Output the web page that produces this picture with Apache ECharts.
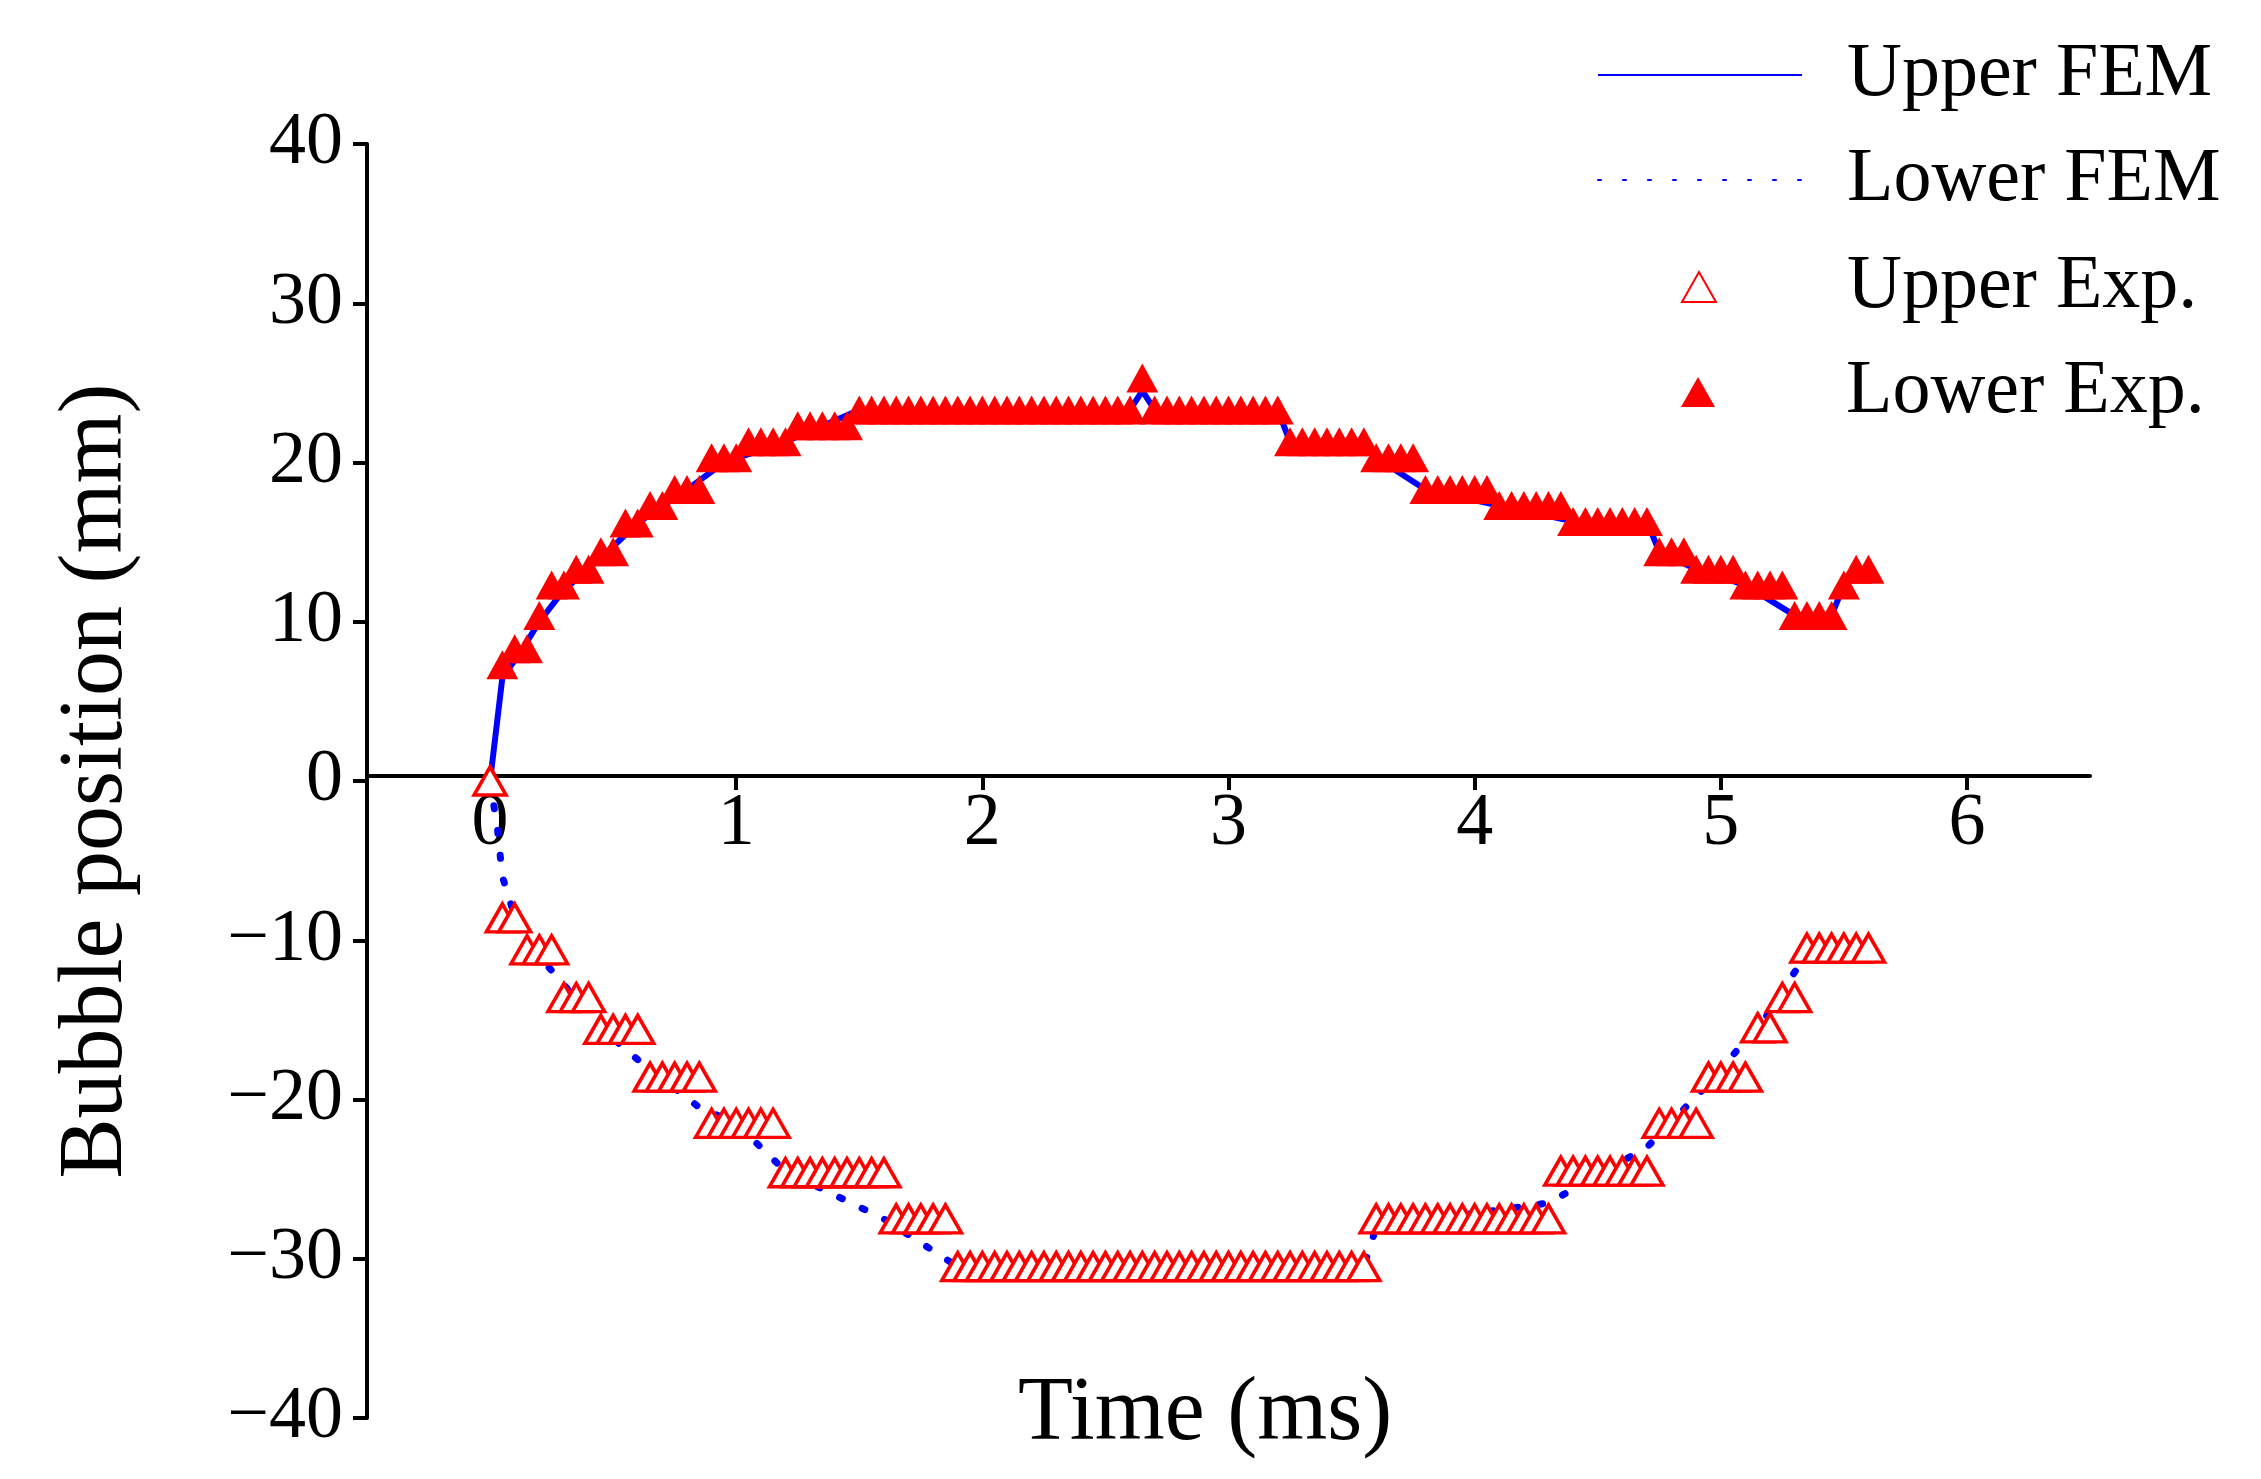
<!DOCTYPE html>
<html><head><meta charset="utf-8">
<script src="https://cdn.jsdelivr.net/npm/echarts@6/dist/echarts.min.js"></script>
<style>html,body{margin:0;padding:0;background:#fff}#c{width:2261px;height:1479px}</style>
</head><body><div id="c"></div>
<script>
const FONT = '"Liberation Serif","DejaVu Serif",serif';
const xTicks = [0,1,2,3,4,5,6];
const yTicks = [-40,-30,-20,-10,0,10,20,30,40];

// Lower Exp. (filled triangles, positive side)
const lowerExpX = [0.05,0.10,0.15,0.20,0.25,0.30,0.35,0.40,0.45,0.50,0.55,0.60,0.65,0.70,0.75,0.80,0.85,0.90,0.95,1.00,1.05,1.10,1.15,1.20,1.25,1.30,1.35,1.40,1.45,
 1.50,1.55,1.60,1.65,1.70,1.75,1.80,1.85,1.90,1.95,2.00,2.05,2.10,2.15,2.20,2.25,2.30,2.35,2.40,2.45,2.50,2.55,2.60,2.65,2.70,2.75,2.80,2.85,2.90,2.95,3.00,3.05,3.10,3.15,3.20,
 3.25,3.30,3.35,3.40,3.45,3.50,3.55,3.60,3.65,3.70,3.75,3.80,3.85,3.90,3.95,4.00,4.05,4.10,4.15,4.20,4.25,4.30,4.35,
 4.40,4.45,4.50,4.55,4.60,4.65,4.70,4.75,4.80,4.85,4.90,4.95,5.00,5.05,5.10,5.15,5.20,5.25,5.30,5.35,5.40,5.45,5.50,5.55,5.60];
const lowerExpY = [7.3,8.3,8.3,10.4,12.3,12.3,13.3,13.3,14.4,14.4,16.2,16.2,17.3,17.3,18.3,18.3,18.3,20.3,20.3,20.3,21.3,21.3,21.3,21.3,22.3,22.3,22.3,22.3,22.3,
 23.3,23.3,23.3,23.3,23.3,23.3,23.3,23.3,23.3,23.3,23.3,23.3,23.3,23.3,23.3,23.3,23.3,23.3,23.3,23.3,23.3,23.3,23.3,25.3,23.3,23.3,23.3,23.3,23.3,23.3,23.3,23.3,23.3,23.3,23.3,
 21.3,21.3,21.3,21.3,21.3,21.3,21.3,20.3,20.3,20.3,20.3,18.3,18.3,18.3,18.3,18.3,18.3,17.3,17.3,17.3,17.3,17.3,17.3,
 16.3,16.3,16.3,16.3,16.3,16.3,16.3,14.4,14.4,14.4,13.3,13.3,13.3,13.3,12.3,12.3,12.3,12.3,10.4,10.4,10.4,10.4,12.3,13.3,13.3];

// Upper Exp. (hollow triangles, negative side)
const upperExpX = [0,0.05,0.10,0.15,0.20,0.25,0.30,0.35,0.40,0.45,0.50,0.55,0.60,0.65,0.70,0.75,0.80,0.85,0.90,0.95,1.00,1.05,1.10,1.15,
 1.20,1.25,1.30,1.35,1.40,1.45,1.50,1.55,1.60,1.65,1.70,1.75,1.80,1.85,
 1.90,1.95,2.00,2.05,2.10,2.15,2.20,2.25,2.30,2.35,2.40,2.45,2.50,2.55,2.60,2.65,2.70,2.75,2.80,2.85,2.90,2.95,3.00,3.05,3.10,3.15,3.20,3.25,3.30,3.35,3.40,3.45,3.50,3.55,
 3.60,3.65,3.70,3.75,3.80,3.85,3.90,3.95,4.00,4.05,4.10,4.15,4.20,4.25,4.30,
 4.35,4.40,4.45,4.50,4.55,4.60,4.65,4.70,4.75,4.80,4.85,4.90,4.95,5.00,5.05,5.10,5.15,5.20,5.25,5.30,5.35,5.40,5.45,5.50,5.55,5.60];
const upperExpY = [0,-8.6,-8.6,-10.6,-10.6,-10.6,-13.6,-13.6,-13.6,-15.6,-15.6,-15.6,-15.6,-18.6,-18.6,-18.6,-18.6,-18.6,-21.5,-21.5,-21.5,-21.5,-21.5,-21.5,
 -24.6,-24.6,-24.6,-24.6,-24.6,-24.6,-24.6,-24.6,-24.6,-27.5,-27.5,-27.5,-27.5,-27.5,
 -30.5,-30.5,-30.5,-30.5,-30.5,-30.5,-30.5,-30.5,-30.5,-30.5,-30.5,-30.5,-30.5,-30.5,-30.5,-30.5,-30.5,-30.5,-30.5,-30.5,-30.5,-30.5,-30.5,-30.5,-30.5,-30.5,-30.5,-30.5,-30.5,-30.5,-30.5,-30.5,-30.5,-30.5,
 -27.5,-27.5,-27.5,-27.5,-27.5,-27.5,-27.5,-27.5,-27.5,-27.5,-27.5,-27.5,-27.5,-27.5,-27.5,
 -24.5,-24.5,-24.5,-24.5,-24.5,-24.5,-24.5,-24.5,-21.5,-21.5,-21.5,-21.5,-18.6,-18.6,-18.6,-18.6,-15.5,-15.5,-13.6,-13.6,-10.5,-10.5,-10.5,-10.5,-10.5,-10.5];

// FEM curves
const upperFemX = [0,0.05,0.12,0.2,0.3,0.45,0.6,0.8,0.95,1.2,1.5,2.6,2.65,2.7,3.2,3.25,3.55,3.6,3.8,4.1,4.4,4.7,4.75,4.9,5.1,5.3,5.45,5.5,5.6];
const upperFemY = [0,6.5,8,10,12,14,16.2,18.3,20,21.3,23.3,23.3,24.5,23.3,23.3,21.3,21.3,20.3,18.3,17.3,16.3,16.3,14.4,13.3,12.3,10.4,10.4,12.3,13.3];
const lowerFemX = [0,0.03,0.05,0.1,0.2,0.3,0.45,0.6,0.85,1.0,1.2,1.6,1.9,3.55,3.6,4.3,4.7,4.95,5.2,5.3,5.35,5.6];
const lowerFemY = [0,-3,-6,-8.5,-11,-12.8,-15.5,-17.5,-20.5,-21.5,-24.5,-27.5,-30.5,-30.5,-28,-26.5,-23,-19,-14.5,-12,-11,-11];

const zip = (a,b) => a.map((v,i)=>[v,b[i]]);
const legText = {fontFamily:FONT,fontSize:76,color:'#000',lineHeight:84};
function lineLegend(name, top){
  return {orient:'vertical',left:1592,top:top,itemWidth:204,itemHeight:30,
    textStyle:Object.assign({},legText,{padding:[0,0,0,40]}),
    data:[{name:name,itemStyle:{opacity:0}}]};
}
function triLegend(name, top){
  return {orient:'vertical',left:1676,top:top,itemWidth:34,itemHeight:30,
    textStyle:Object.assign({},legText,{padding:[0,0,0,126]}),
    data:[{name:name,icon:'triangle'}]};
}
const chart = echarts.init(document.getElementById('c'));
chart.setOption({
  backgroundColor:'#fff',
  animation:false,
  textStyle:{fontFamily:FONT},
  grid:{left:367,right:171,top:144,bottom:61,containLabel:false},
  legend:[
    lineLegend('Upper FEM',28),
    lineLegend('Lower FEM',133),
    triLegend('Upper Exp.',240),
    triLegend('Lower Exp.',345)
  ],
  xAxis:{
    type:'value', min:-0.5, max:6.5, offset:-642,
    axisLine:{onZero:false,lineStyle:{color:'#000',width:4}},
    axisTick:{show:true,length:14,lineStyle:{width:4,color:'#000'},customValues:xTicks},
    axisLabel:{fontSize:74,color:'#000',fontFamily:FONT,margin:12,customValues:xTicks},
    splitLine:{show:false}
  },
  yAxis:{
    type:'value', min:-40, max:40, interval:10,
    name:'Bubble position (mm)', nameLocation:'middle', nameGap:225,
    nameTextStyle:{fontSize:90,fontFamily:FONT,color:'#000'},
    axisLine:{onZero:false,lineStyle:{color:'#000',width:4}},
    axisTick:{length:14,lineStyle:{width:4,color:'#000'}},
    axisLabel:{fontSize:74,color:'#000',fontFamily:FONT,margin:24,
      formatter:v=> v<0 ? '\u2212'+Math.abs(v) : String(v)},
    splitLine:{show:false}
  },
  graphic:[{type:'text',left:1018,top:1370,style:{text:'Time (ms)',font:'90px '+FONT,fill:'#000'}}],
  series:[
    {name:'Upper FEM',type:'line',data:zip(upperFemX,upperFemY),showSymbol:false,symbol:'none',
      lineStyle:{color:'#0000ff',width:6},itemStyle:{color:'#0000ff'},z:1},
    {name:'Lower FEM',type:'line',data:zip(lowerFemX,lowerFemY),showSymbol:false,symbol:'none',
      lineStyle:{color:'#0000ff',width:7,type:[3,22],cap:'round'},itemStyle:{color:'#0000ff'},z:1},
    {name:'Upper Exp.',type:'scatter',data:zip(upperExpX,upperExpY),symbol:'triangle',symbolSize:[32,28],
      itemStyle:{color:'#fff',borderColor:'#ff0000',borderWidth:3.5,opacity:1},z:3},
    {name:'Lower Exp.',type:'scatter',data:zip(lowerExpX,lowerExpY),symbol:'triangle',symbolSize:[32,29],
      itemStyle:{color:'#ff0000',opacity:1},z:3}
  ]
});
</script></body></html>
